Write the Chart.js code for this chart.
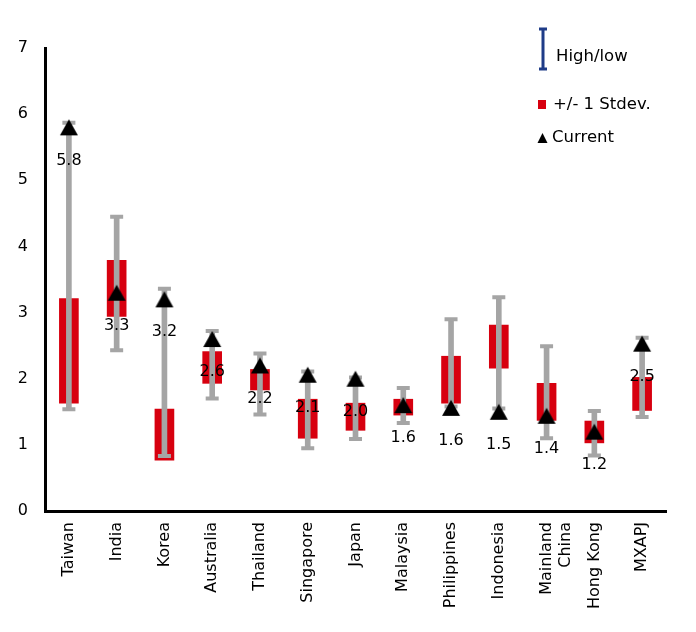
<!DOCTYPE html>
<html>
<head>
<meta charset="utf-8">
<script src="https://cdn.jsdelivr.net/npm/chart.js@4"></script>
<style>
  html, body { margin: 0; padding: 0; background: #fff; }
</style>
</head>
<body>
<canvas id="myChart" width="696" height="632"></canvas>
<script>
// data
let markets = ['Taiwan', 'India', 'Korea', 'Australia', 'Thailand', 'Singapore', 'Japan',
  'Malaysia', 'Philippines', 'Indonesia', ['Mainland', 'China'], 'Hong Kong', 'MXAPJ'];
let highs   = [5.87, 4.45, 3.36, 2.72, 2.38, 2.11, 2.02, 1.86, 2.90, 3.23, 2.49, 1.51, 2.62];
let lows    = [1.54, 2.43, 0.83, 1.70, 1.46, 0.95, 1.09, 1.33, 1.58, 1.55, 1.10, 0.84, 1.42];
let sdTop   = [3.21, 3.79, 1.54, 2.41, 2.14, 1.69, 1.63, 1.69, 2.34, 2.81, 1.93, 1.36, 2.02];
let sdBot   = [1.63, 2.94, 0.77, 1.93, 1.83, 1.10, 1.22, 1.45, 1.63, 2.16, 1.37, 1.03, 1.52];
let current = [5.8, 3.3, 3.2, 2.6, 2.2, 2.06, 2.0, 1.6, 1.56, 1.5, 1.44, 1.2, 2.53];
let yTicks  = [0, 1, 2, 3, 4, 5, 6, 7];

const FONT = 'DejaVu Sans';
const GREY = '#a5a5a5';
const RED = '#d7000f';
const NAVY = '#1f3c88';

// triangle marker centred on its box, like the spreadsheet marker
let tri = document.createElement('canvas');
tri.width = 20; tri.height = 20;
let tctx = tri.getContext('2d');
tctx.fillStyle = '#000';
tctx.beginPath();
tctx.moveTo(10, 2); tctx.lineTo(19, 18); tctx.lineTo(1, 18);
tctx.closePath();
tctx.fill();

// value labels under the triangles
const valueLabels = {
  id: 'valueLabels',
  afterDatasetsDraw(chart) {
    let ctx = chart.ctx;
    let meta = chart.getDatasetMeta(4);
    ctx.save();
    ctx.font = '16px "' + FONT + '"';
    ctx.fillStyle = '#000';
    ctx.textAlign = 'center';
    ctx.textBaseline = 'middle';
    meta.data.forEach((pt, i) => {
      ctx.fillText(current[i].toFixed(1), pt.x, pt.y + 33);
    });
    ctx.restore();
  }
};

// legend in the top right corner
const cornerLegend = {
  id: 'cornerLegend',
  afterDraw(chart) {
    let ctx = chart.ctx;
    ctx.save();
    // high/low I-beam
    ctx.strokeStyle = NAVY;
    ctx.lineWidth = 3;
    ctx.beginPath();
    ctx.moveTo(543, 28); ctx.lineTo(543, 70);
    ctx.moveTo(539, 29); ctx.lineTo(547, 29);
    ctx.moveTo(539, 69); ctx.lineTo(547, 69);
    ctx.stroke();
    // stdev square
    ctx.fillStyle = RED;
    ctx.fillRect(538, 100, 8, 9);
    // current triangle
    ctx.fillStyle = '#000';
    ctx.beginPath();
    ctx.moveTo(542.5, 133); ctx.lineTo(547.5, 143); ctx.lineTo(537.5, 143);
    ctx.closePath();
    ctx.fill();

    ctx.font = '16.5px "' + FONT + '"';
    ctx.textAlign = 'left';
    ctx.textBaseline = 'middle';
    ctx.fillText('High/low', 556, 57);
    ctx.fillText('+/- 1 Stdev.', 553, 105);
    ctx.fillText('Current', 552, 138);
    ctx.restore();
  }
};

let ctx = document.getElementById('myChart').getContext('2d');
let chart = new Chart(ctx, {
  type: 'bar',
  data: {
    labels: markets,
    datasets: [
      {
        label: '+/- 1 Stdev.',
        data: sdBot.map((v, i) => [v, sdTop[i]]),
        backgroundColor: RED,
        barThickness: 19,
        grouped: false,
        order: 5
      },
      {
        label: 'range',
        data: lows.map((v, i) => [v, highs[i]]),
        backgroundColor: GREY,
        barThickness: 5,
        grouped: false,
        order: 4
      },
      {
        type: 'line',
        label: 'high cap',
        data: highs,
        showLine: false,
        pointStyle: 'line',
        pointRadius: 6.5,
        pointBorderWidth: 4,
        borderColor: GREY,
        order: 3
      },
      {
        type: 'line',
        label: 'low cap',
        data: lows,
        showLine: false,
        pointStyle: 'line',
        pointRadius: 6.5,
        pointBorderWidth: 4,
        borderColor: GREY,
        order: 3
      },
      {
        type: 'line',
        label: 'Current',
        data: current,
        showLine: false,
        pointStyle: tri,
        pointRadius: 10,
        order: 1
      }
    ]
  },
  options: {
    responsive: false,
    animation: false,
    events: [],
    devicePixelRatio: 1,
    layout: { padding: { top: 48, right: 30, left: 0, bottom: 0 } },
    plugins: {
      legend: { display: false },
      tooltip: { enabled: false }
    },
    scales: {
      x: {
        grid: { display: false, drawTicks: false },
        border: { display: true, color: '#000', width: 3 },
        ticks: {
          color: '#000',
          font: { family: FONT, size: 16 },
          minRotation: 90,
          maxRotation: 90,
          padding: 11,
          autoSkip: false
        },
        afterFit(scale) { scale.height = 121; }
      },
      y: {
        min: 0,
        max: 7,
        grid: { display: false, drawTicks: false },
        border: { display: true, color: '#000', width: 3 },
        afterBuildTicks(scale) { scale.ticks = yTicks.map(v => ({ value: v })); },
        ticks: {
          color: '#000',
          font: { family: FONT, size: 16 },
          padding: 17
        },
        afterFit(scale) { scale.width = 45; }
      }
    }
  },
  plugins: [valueLabels, cornerLegend]
});
</script>
</body>
</html>
